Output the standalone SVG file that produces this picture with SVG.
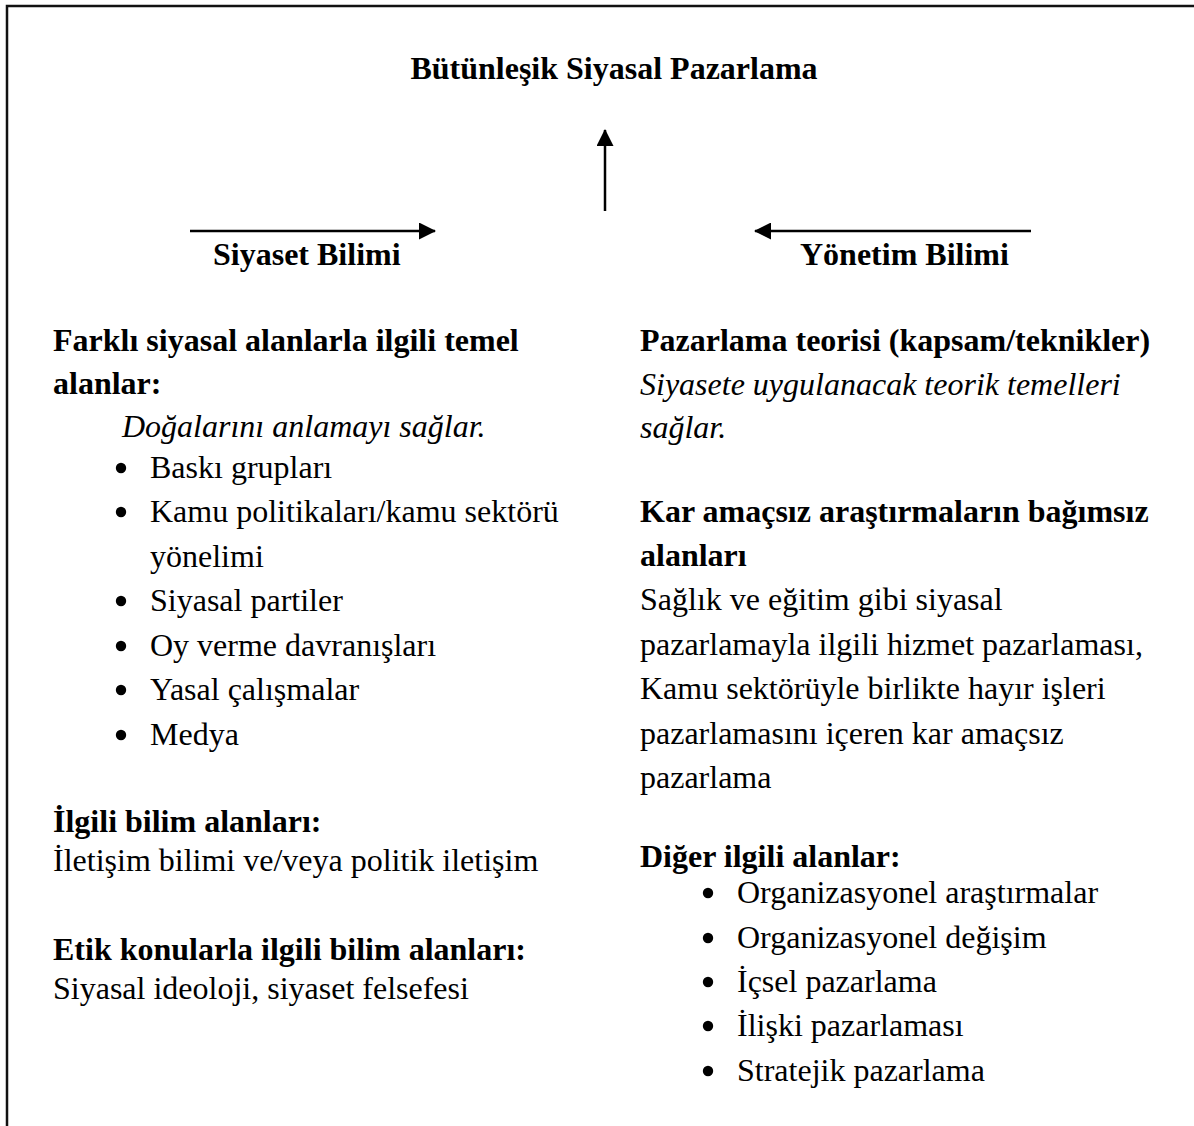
<svg xmlns="http://www.w3.org/2000/svg" width="1194" height="1126" viewBox="0 0 1194 1126">
<style>
text{font-family:"Liberation Serif","Times New Roman",serif;font-size:32px;fill:#000}
.b{font-weight:bold}
.i{font-style:italic}
.bu{fill:#000}
.conn{stroke:#000;stroke-width:2.5;fill:none}
</style>
<defs>
<marker id="ah" markerUnits="userSpaceOnUse" markerWidth="17" markerHeight="17" refX="16" refY="8.5" orient="auto">
<path d="M0,0 L17,8.5 L0,17 Z" fill="#000"/>
</marker>
</defs>
<rect x="0" y="0" width="1194" height="1126" fill="#fff"/>
<rect x="7" y="6" width="1200" height="1200" fill="none" stroke="#111" stroke-width="2.5"/>
<g id="connectors">
<line class="conn" x1="605" y1="211" x2="605" y2="130" marker-end="url(#ah)"/>
<line class="conn" x1="190" y1="231" x2="435" y2="231" marker-end="url(#ah)"/>
<line class="conn" x1="1031" y1="231" x2="755" y2="231" marker-end="url(#ah)"/>
</g>
<g id="title"><text class="b" x="614" y="79" text-anchor="middle">Bütünleşik Siyasal Pazarlama</text></g>
<g id="siyaset-bilimi"><text class="b" x="213" y="265">Siyaset Bilimi</text></g>
<g id="yonetim-bilimi"><text class="b" x="800" y="265">Yönetim Bilimi</text></g>
<g id="left-column">
<text class="b" x="53" y="351">Farklı siyasal alanlarla ilgili temel</text>
<text class="b" x="53" y="394">alanlar:</text>
<text class="i" x="122" y="437">Doğalarını anlamayı sağlar.</text>
<circle class="bu" cx="121" cy="468" r="5.2"/><text x="150" y="478">Baskı grupları</text>
<circle class="bu" cx="121" cy="512" r="5.2"/><text x="150" y="522">Kamu politikaları/kamu sektörü</text>
<text x="150" y="567">yönelimi</text>
<circle class="bu" cx="121" cy="601" r="5.2"/><text x="150" y="611">Siyasal partiler</text>
<circle class="bu" cx="121" cy="646" r="5.2"/><text x="150" y="656">Oy verme davranışları</text>
<circle class="bu" cx="121" cy="690" r="5.2"/><text x="150" y="700">Yasal çalışmalar</text>
<circle class="bu" cx="121" cy="735" r="5.2"/><text x="150" y="745">Medya</text>
<text class="b" x="53" y="832">İlgili bilim alanları:</text>
<text x="53" y="871">İletişim bilimi ve/veya politik iletişim</text>
<text class="b" x="53" y="960">Etik konularla ilgili bilim alanları:</text>
<text x="53" y="999">Siyasal ideoloji, siyaset felsefesi</text>
</g>
<g id="right-column">
<text class="b" x="640" y="351">Pazarlama teorisi (kapsam/teknikler)</text>
<text class="i" x="640" y="395">Siyasete uygulanacak teorik temelleri</text>
<text class="i" x="640" y="438">sağlar.</text>
<text class="b" x="640" y="522">Kar amaçsız araştırmaların bağımsız</text>
<text class="b" x="640" y="566">alanları</text>
<text x="640" y="610">Sağlık ve eğitim gibi siyasal</text>
<text x="640" y="655">pazarlamayla ilgili hizmet pazarlaması,</text>
<text x="640" y="699">Kamu sektörüyle birlikte hayır işleri</text>
<text x="640" y="744">pazarlamasını içeren kar amaçsız</text>
<text x="640" y="788">pazarlama</text>
<text class="b" x="640" y="867">Diğer ilgili alanlar:</text>
<circle class="bu" cx="708" cy="893" r="5.2"/><text x="737" y="903">Organizasyonel araştırmalar</text>
<circle class="bu" cx="708" cy="938" r="5.2"/><text x="737" y="948">Organizasyonel değişim</text>
<circle class="bu" cx="708" cy="982" r="5.2"/><text x="737" y="992">İçsel pazarlama</text>
<circle class="bu" cx="708" cy="1026" r="5.2"/><text x="737" y="1036">İlişki pazarlaması</text>
<circle class="bu" cx="708" cy="1071" r="5.2"/><text x="737" y="1081">Stratejik pazarlama</text>
</g>
</svg>
